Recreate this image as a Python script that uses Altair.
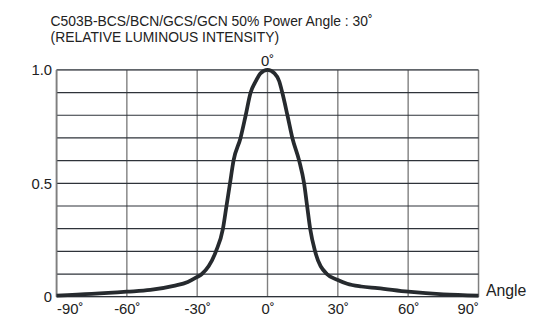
import altair as alt
import pandas as pd

angles = [-90, -75, -60, -50, -40, -34, -30, -28, -22, -19, -17.5, -16, -14.5, -11.5, -9.3, -7.2, -5, -3, 0,
          3, 5, 6.3, 8.5, 10.6, 13.5, 15.6, 16.9, 18.2, 20.3, 25.3, 30, 34, 40, 47, 60, 75, 90]
intensity = [0.005, 0.012, 0.022, 0.03, 0.048, 0.065, 0.087, 0.1, 0.2, 0.3, 0.4, 0.5, 0.6, 0.7, 0.8, 0.9, 0.95, 0.985, 1.0,
             0.985, 0.95, 0.9, 0.8, 0.7, 0.6, 0.5, 0.4, 0.3, 0.2, 0.1, 0.074, 0.057, 0.045, 0.038, 0.022, 0.01, 0.005]
x_ticks = [-90, -60, -30, 0, 30, 60, 90]
y_ticks = [0, 0.1, 0.2, 0.3, 0.4, 0.5, 0.6, 0.7, 0.8, 0.9, 1.0]
title_line = "C503B-BCS/BCN/GCS/GCN 50% Power Angle : 30˚"
subtitle_line = "(RELATIVE LUMINOUS INTENSITY)"

df = pd.DataFrame({"angle": angles, "value": intensity})
FONT = "Liberation Sans"

x_scale = alt.Scale(domain=[-90, 90], nice=False, zero=False)
y_scale = alt.Scale(domain=[0, 1], nice=False)

vgrid = alt.Chart(pd.DataFrame({"angle": x_ticks})).mark_rule(color="#7f7f7f", strokeWidth=1.4).encode(
    x=alt.X("angle:Q", scale=x_scale,
            axis=alt.Axis(values=x_ticks, labelExpr="datum.value + '˚'", grid=False, ticks=False, domain=False,
                          labelFontSize=15, labelFont=FONT, labelColor="#222", labelPadding=5,
                          title="Angle", titleFont=FONT, titleFontSize=16, titleFontWeight="normal",
                          titleColor="#222", titleAlign="left", titleBaseline="middle",
                          titleX=433, titleY=-6, titleAngle=0))
)

hgrid = alt.Chart(pd.DataFrame({"value": y_ticks})).mark_rule(color="#2e333a", strokeWidth=1.2).encode(
    y=alt.Y("value:Q", scale=y_scale,
            axis=alt.Axis(values=[0, 0.5, 1.0],
                          labelExpr="datum.value == 0 ? '0' : format(datum.value, '.1f')",
                          grid=False, ticks=False, domain=False, labelFontSize=15, labelFont=FONT,
                          labelColor="#222", labelPadding=5, title=None))
)

left_border = alt.Chart(pd.DataFrame({"angle": [-90]})).mark_rule(color="#7f7f7f", strokeWidth=1.6).encode(
    x=alt.X("angle:Q", scale=x_scale)
)

curve = alt.Chart(df).mark_line(color="#262a2e", strokeWidth=3.8, interpolate="monotone").encode(
    x=alt.X("angle:Q", scale=x_scale),
    y=alt.Y("value:Q", scale=y_scale),
)

top_label = alt.Chart(pd.DataFrame({"angle": [0], "value": [1.0], "t": ["0˚"]})).mark_text(
    font=FONT, fontSize=15, color="#222", dy=-9, baseline="middle"
).encode(x=alt.X("angle:Q", scale=x_scale), y=alt.Y("value:Q", scale=y_scale), text="t:N")

chart = alt.layer(vgrid, hgrid, left_border, curve, top_label).properties(
    width=426, height=229,
    title=alt.Title(text=title_line, subtitle=subtitle_line, anchor="start", frame="group",
                    font=FONT, fontSize=14, fontWeight="normal", color="#222",
                    subtitleFont=FONT, subtitleFontSize=14, subtitleColor="#222",
                    subtitlePadding=2, offset=9, dx=-6),
    autosize=alt.AutoSizeParams(type="none"),
    padding={"left": 49, "top": 61, "right": 50, "bottom": 20},
).configure_view(stroke=None).configure(background="white")

chart.save("out.html", embed_options={"renderer": "svg", "actions": False})
